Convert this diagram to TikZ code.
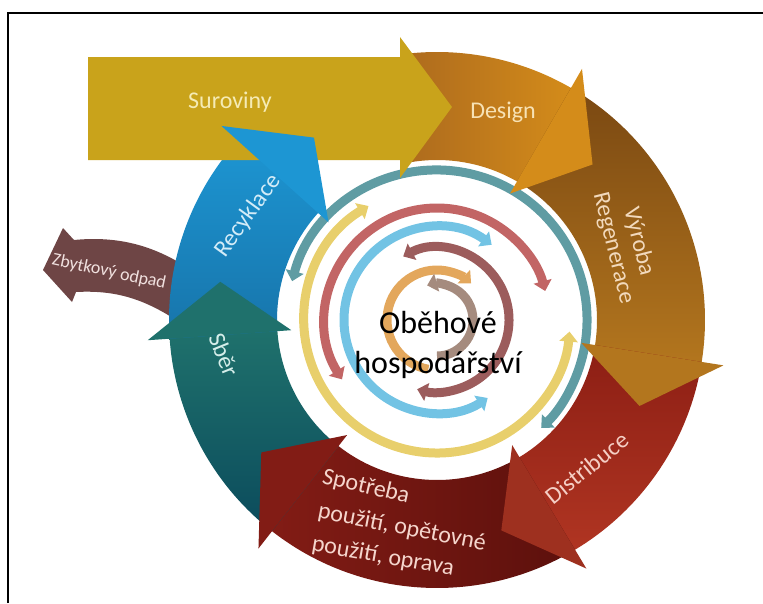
\documentclass[tikz,border=0pt]{standalone}
\usepackage{fontspec}
\setmainfont{Carlito}
\usetikzlibrary{arrows.meta}

\definecolor{suroviny}{HTML}{C9A31B}
\definecolor{designA}{HTML}{A8661E}
\definecolor{designB}{HTML}{D48C1A}
\definecolor{vyrobaA}{HTML}{7A4812}
\definecolor{vyrobaB}{HTML}{B3761E}
\definecolor{distA}{HTML}{8C1E14}
\definecolor{distB}{HTML}{B03522}
\definecolor{spotA}{HTML}{821C15}
\definecolor{spotB}{HTML}{5C100C}
\definecolor{sberA}{HTML}{1F716C}
\definecolor{sberB}{HTML}{0B4B5C}
\definecolor{recyA}{HTML}{1D96D3}
\definecolor{recyB}{HTML}{1774AA}
\definecolor{odpad}{HTML}{6E4545}
\definecolor{rTeal}{HTML}{5F9CA3}
\definecolor{rYellow}{HTML}{E8CF6C}
\definecolor{rRose}{HTML}{C26565}
\definecolor{rBlue}{HTML}{72C3E4}
\definecolor{rMauve}{HTML}{9C5C5C}
\definecolor{rOrange}{HTML}{E3A75C}
\definecolor{rTaupe}{HTML}{A58B7E}
\definecolor{surText}{HTML}{F5EBB5}
\definecolor{desText}{HTML}{F7E2B5}
\definecolor{vyrText}{HTML}{F2D9BC}
\definecolor{disText}{HTML}{F5CFC5}
\definecolor{spoText}{HTML}{F5D5CC}
\definecolor{sbeText}{HTML}{D5EEEA}
\definecolor{recText}{HTML}{D3ECF8}
\definecolor{odpText}{HTML}{F0E0DE}

% piece of the big ring and its head (angles go clockwise, y points down)
\newcommand{\ringbody}[3]{\path[#3] (#1:268) arc[start angle=#1, end angle=#2, radius=268]
  -- (#2:160) arc[start angle=#2, end angle=#1, radius=160] -- cycle;}
\newcommand{\ringhead}[3]{\path[#3] (#1:146) -- (#2:220) -- (#1:290) -- cycle;}

\begin{document}
\begin{tikzpicture}[x=1pt, y=-1pt,
    lbl/.style={text=#1, font=\fontsize{24}{26}\selectfont, align=center},
    ring/.style={line width=9pt, draw=#1, >={Triangle[width=18pt,length=10pt]}}]
  \useasboundingbox (0,0) rectangle (763,603);
  \draw[line width=2.5pt] (8,603) -- (8,13) -- (763,13);

  % Zbytkovy odpad
  \fill[odpad] (185,266) .. controls (150,244) and (115,236) .. (74,240) -- (63,228) -- (43,270)
    -- (72,302) -- (76,292) .. controls (115,290) and (145,298) .. (185,326) -- cycle;

  \begin{scope}[shift={(437,320)}]
    % inner circles
    \foreach \r/\a/\b/\c in {150/195/406/rTeal, 133/239/5/rYellow, 112/148/345/rRose,
                             93/306/57/rBlue, 72/242/466/rMauve}
      \draw[ring=\c, <->] (\a:\r) arc[start angle=\a, end angle=\b, radius=\r];
    \draw[ring=rOrange, ->] (100:50) arc[start angle=100, end angle=313, radius=50];
    \draw[ring=rTaupe, ->] (450:36) arc[start angle=450, end angle=254, radius=36];

    % big ring
    \begin{scope}
      \clip (-37,-300) rectangle (300,0);
      \ringbody{258}{300.5}{left color=designA, right color=designB}
    \end{scope}
    \ringbody{300}{369.5}{top color=vyrobaA, bottom color=vyrobaB}
    \ringbody{9}{59.5}{top color=distA, bottom color=distB}
    \ringbody{59}{128.5}{left color=spotA, right color=spotB}
    \ringbody{128}{176.5}{top color=sberA, bottom color=sberB}
    \ringbody{176}{222.5}{top color=recyA, bottom color=recyB}
  \end{scope}

  \fill[suroviny] (88,57) -- (400,57) -- (400,37) -- (452,107) -- (400,178) -- (400,160) -- (88,160) -- cycle;

  \begin{scope}[shift={(437,320)}]
    \ringhead{300}{315}{fill=designB}
    \ringhead{369}{383}{fill=vyrobaB}
    \ringhead{59}{73}{fill=distB!90!black}
    \ringhead{128}{143}{fill=spotA}
    \ringhead{176}{190}{fill=sberA}
    \ringhead{222}{236}{fill=recyA}
  \end{scope}

  \node[lbl=surText] (suroviny) at (230,102) {Suroviny};
  \node[lbl=desText] (design) at (503,112) {Design};
  \node[lbl=vyrText, rotate=-76] (vyroba) at (626,245) {Výroba\\Regenerace};
  \node[lbl=disText, rotate=39] (distribuce) at (587,468) {Distribuce};
  \node[lbl=spoText, rotate=-13] (spotreba) at (366,487) {Spotřeba};
  \node[lbl=spoText, rotate=-11] (pouziti) at (402,528) {použití, opětovné};
  \node[lbl=spoText, rotate=-10] (oprava) at (383,557) {použití, oprava};
  \node[lbl=sbeText, rotate=-68] (sber) at (224,355) {Sběr};
  \node[lbl=recText, rotate=54] (recyklace) at (248,216) {Recyklace};
  \node[lbl=odpText, rotate=-12, font=\fontsize{18}{22}\selectfont] (odpad) at (109,272) {Zbytkový odpad};
  \node[font=\fontsize{32}{40}\selectfont, align=center] (stred) at (438,345) {Oběhové\\hospodářství};
\end{tikzpicture}
\end{document}
